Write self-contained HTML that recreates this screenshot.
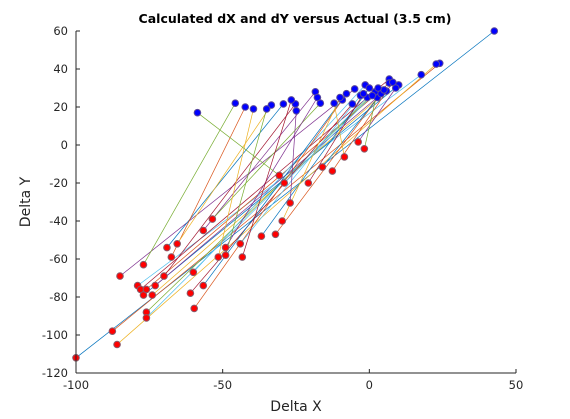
<!DOCTYPE html>
<html><head><meta charset="utf-8"><style>
html,body{margin:0;padding:0;background:#fff;}
svg{display:block;font-family:"DejaVu Sans","Liberation Sans",sans-serif;}
</style></head><body>
<svg id="chart" width="570" height="419" viewBox="0 0 570 419">
<text x="295" y="23" text-anchor="middle" font-size="12.5" font-weight="bold" fill="#000">Calculated dX and dY versus Actual (3.5 cm)</text>
<text x="296" y="411" text-anchor="middle" font-size="14" fill="#262626">Delta X</text>
<text x="30" y="202" text-anchor="middle" font-size="14" fill="#262626" transform="rotate(-90 30 202)">Delta Y</text>
<g id="lines"></g>
<g id="marks"></g>
<g id="axes"></g>
</svg>
<script>
const calcX = [-100,-87.6,-86,-85,-77,-79,-78,-77,-76,-74,-73,-76,-76,-70,-69,-67.5,-65.5,-56.6,-53.5,-60,-61,-56.6,-59.7,-51.5,-49,-49,-44,-43.3,-36.8,-32,-29.7,-27,-30.7,-29,-20.8,-16,-12.6,-8.5,-3.8,-1.7];
const calcY = [-112,-98,-105,-69,-63,-74,-76,-79,-76,-79,-74,-88,-91,-69,-54,-59,-52,-45,-39,-67,-78,-74,-86,-59,-54,-58,-52,-59,-48,-47,-40,-30.5,-16,-20,-20,-11.6,-13.7,-6.3,1.6,-2];
const actX = [42.6,24,22.8,-5,-45.7,17.7,6.8,10,6.8,5.8,2.7,2,-0.7,-25.2,-29.3,-42.3,-33.4,-18.4,-16.7,-1.4,-5.8,-7.8,-9.2,-39.5,-17.7,-35,-3,-26.6,0,4,-10,-24.9,-58.6,1,-2,5,8,-12,9,3];
const actY = [60,43,42.6,29.5,22,37,34.7,31.6,32.6,28.4,25,28,25,21.6,21.6,20,21,28,22,31.6,21.6,27,23.7,19,25,19,26,23.7,30,27,25,18,17,26,27,29,33,22,30,30];
const xTicks = [-100,-50,0,50];
const yTicks = [-120,-100,-80,-60,-40,-20,0,20,40,60];
const colors = ['#0072BD','#D95319','#EDB120','#7E2F8E','#77AC30','#4DBEEE','#A2142F'];
const X0=76,X1=516,Y0=373,Y1=31;
function sx(v){return X0+(v+100)/150*(X1-X0);}
function sy(v){return Y0-(v+120)/180*(Y0-Y1);}
const NS='http://www.w3.org/2000/svg';
function mk(t,a){const e=document.createElementNS(NS,t);for(const k in a)e.setAttribute(k,a[k]);return e;}
const gl=document.getElementById('lines'),gm=document.getElementById('marks'),ga=document.getElementById('axes');
for(let i=0;i<calcX.length;i++){
  const l=mk('line',{x1:sx(calcX[i]),y1:sy(calcY[i]),x2:sx(actX[i]),y2:sy(actY[i]),stroke:colors[i%7],'stroke-width':0.7});
  
  
  gl.appendChild(l);
}
for(let i=0;i<actX.length;i++){
  const c=mk('circle',{cx:sx(actX[i]),cy:sy(actY[i]),r:3.3,fill:'#0000ff',stroke:'#5a4a9a','stroke-width':1});
  
  
  gm.appendChild(c);
}
for(let i=0;i<calcX.length;i++){
  const c=mk('circle',{cx:sx(calcX[i]),cy:sy(calcY[i]),r:3.3,fill:'#ff0000',stroke:'#8a5a6a','stroke-width':1});
  
  
  gm.appendChild(c);
}
ga.appendChild(mk('line',{x1:X0,y1:Y0,x2:X1,y2:Y0,stroke:'#262626','stroke-width':1}));
ga.appendChild(mk('line',{x1:X0,y1:Y0,x2:X0,y2:Y1,stroke:'#262626','stroke-width':1}));
xTicks.forEach(v=>{
  ga.appendChild(mk('line',{x1:sx(v),y1:Y0,x2:sx(v),y2:Y0-4,stroke:'#262626'}));
  const t=mk('text',{x:sx(v),y:Y0+16,'text-anchor':'middle','font-size':11.5,fill:'#262626'});
  t.textContent=v;
  
  
  ga.appendChild(t);
});
yTicks.forEach(v=>{
  ga.appendChild(mk('line',{x1:X0,y1:sy(v),x2:X0+4,y2:sy(v),stroke:'#262626'}));
  const t=mk('text',{x:X0-8,y:sy(v)+4,'text-anchor':'end','font-size':11.5,fill:'#262626'});
  t.textContent=v;
  
  
  ga.appendChild(t);
});
</script>
</body></html>
